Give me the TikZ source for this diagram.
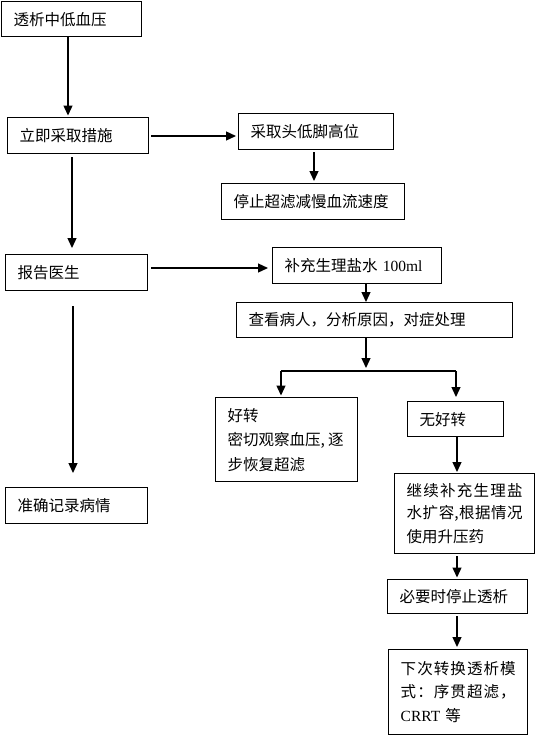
\documentclass[tikz,border=0pt]{standalone}
\usepackage{fontspec}
\setmainfont{Noto Sans CJK SC}
\newfontfamily\lat{Liberation Serif}
\usetikzlibrary{arrows.meta}
\newcommand\bx[6]{%
  \pgfmathsetmacro\bw{#4-#2}\pgfmathsetmacro\bh{#5-#3}\pgfmathsetmacro\tw{#4-#2-24}%
  \node[box,minimum width=\bw pt,minimum height=\bh pt,text width=\tw pt,anchor=north west] (#1) at (#2,#3) {#6};}
\newcommand\jl[1]{\leavevmode\hbox to\linewidth{#1}}
\newcommand\hf{\hfill{}}
\begin{document}
\begin{tikzpicture}[x=1pt,y=-1pt,
  box/.style={draw,line width=1.4pt,inner xsep=12pt,inner ysep=0pt,align=left,
    font={\fontsize{15.5}{24.5}\selectfont\parindent=0pt}},
  arr/.style={line width=1.3pt,-{Triangle[length=10pt,width=9pt]}}]
\useasboundingbox (0,0) rectangle (538,737);
\bx{b1}{1}{1}{141}{36}{透析中低血压}
\bx{b2}{7}{117}{148}{153}{立即采取措施}
\bx{b3}{238}{113}{393}{149}{采取头低脚高位}
\bx{b4}{221}{183}{404}{219}{停止超滤减慢血流速度}
\bx{b5}{5}{254}{147}{290}{报告医生}
\bx{b6}{272}{247}{441}{283}{补充生理盐水 {\lat 100ml}}
\bx{b7}{236}{302}{512}{337}{查看病人，分析原因，对症处理}
\bx{b8}{215}{397}{357}{481}{好转\\密切观察血压,\hspace{3pt}逐\\步恢复超滤}
\bx{b9}{407}{401}{503}{436}{无好转}
\bx{b10}{394}{473}{534}{553}{\baselineskip=22pt
  \jl{继\hf 续\hf 补\hf 充\hf 生\hf 理\hf 盐}\\
  \jl{水\hf 扩\hf 容,\hf 根\hf 据\hf 情\hf 况}\\
  使用升压药}
\bx{b11}{387}{579}{527}{613}{必要时停止透析}
\bx{b12}{388}{649}{527}{734}{\baselineskip=23pt
  \jl{下\hf 次\hf 转\hf 换\hf 透\hf 析\hf 模}\\
  \jl{式\hf ：\hf 序\hf 贯\hf 超\hf 滤\hf ，}\\
  {\lat CRRT} 等}
\bx{b13}{5}{487}{147}{523}{准确记录病情}
\coordinate (c68) at (68,0);
\coordinate (c72) at (72,0);
\coordinate (c73) at (73,0);
\coordinate (c314) at (314,0);
\coordinate (c366) at (366,0);
\coordinate (c457) at (457,0);
\coordinate (r136) at (0,136);
\coordinate (r268) at (0,268);
\coordinate (jm) at (366,371);
\coordinate (jl) at (281,371);
\coordinate (jr) at (456,371);
\draw[arr,shorten >=1.5pt] (b1.south -| c68) -- (b2.north -| c68);
\draw[arr,shorten <=2pt,shorten >=2pt] (b2.east |- r136) -- (b3.west |- r136);
\draw[arr,shorten <=2pt,shorten >=2pt] (b3.south -| c314) -- (b4.north -| c314);
\draw[arr,shorten <=3pt,shorten >=6pt] (b2.south -| c72) -- (b5.north -| c72);
\draw[arr,shorten <=3pt,shorten >=4pt] (b5.east |- r268) -- (b6.west |- r268);
\draw[arr] (b6.south -| c366) -- (b7.north -| c366);
\draw[arr,shorten >=3pt] (b7.south -| c366) -- (jm);
\draw[line width=1.3pt] (jl) -- (jr);
\draw[arr,shorten >=1.5pt] (jl) -- (b8.north -| jl);
\draw[arr,shorten >=4pt] (jr) -- (b9.north -| jr);
\draw[arr,shorten >=1pt] (b9.south -| c457) -- (b10.north -| c457);
\draw[arr,shorten <=2pt,shorten >=1.5pt] (b10.south -| c457) -- (b11.north -| c457);
\draw[arr,shorten <=2pt,shorten >=2pt] (b11.south -| c457) -- (b12.north -| c457);
\draw[arr,shorten <=15pt,shorten >=14pt] (b5.south -| c73) -- (b13.north -| c73);
\end{tikzpicture}
\end{document}
